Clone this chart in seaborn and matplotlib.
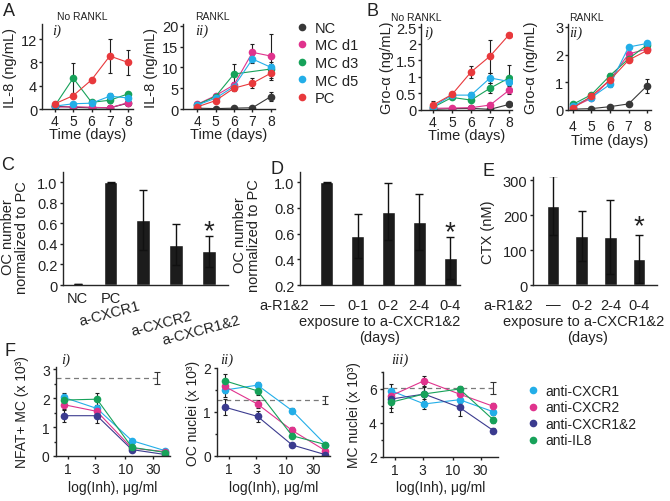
import numpy as np
import pandas as pd
import seaborn as sns
import matplotlib.pyplot as plt
from matplotlib.lines import Line2D
from matplotlib.ticker import AutoMinorLocator, FuncFormatter, NullLocator

W, H = 670, 502

# ---------------- data ----------------
days = [4, 5, 6, 7, 8]
groups = ["NC", "MC d1", "MC d3", "MC d5", "PC"]
group_colors = ["#383838", "#e0338d", "#17a25a", "#23aee8", "#e8393c"]

# A i) IL-8, no RANKL
il8_norankl = {"NC": [0.5, 0.3, 0.2, 0.2, 1.0],
               "MC d1": [0.3, 0.4, 0.3, 0.2, 1.1],
               "MC d3": [0.6, 5.3, 1.15, 1.5, 2.6],
               "MC d5": [0.5, 0.9, 1.0, 2.2, 1.9],
               "PC": [0.9, 2.3, 5.0, 9.1, 8.0]}
il8_norankl_err = {"NC": [0.1, 0.1, 0.1, 0.1, 0.3],
                   "MC d1": [0.1, 0.1, 0.1, 0.1, 0.3],
                   "MC d3": [0.2, 2.6, 0.2, 0.4, 0.4],
                   "MC d5": [0.1, 0.2, 0.2, 0.6, 0.6],
                   "PC": [0.3, 0.3, 0.4, 3.0, 2.2]}

# A ii) IL-8, RANKL
il8_rankl = {"NC": [0.2, 0.1, 0.2, 0.3, 3.0],
             "MC d1": [1.1, 3.2, 5.8, 13.6, 12.7],
             "MC d3": [1.0, 3.0, 8.4, np.nan, 9.6],
             "MC d5": [0.9, 2.6, 5.4, 12.0, 10.0],
             "PC": [0.5, 2.0, 5.0, 6.2, 8.6]}
il8_rankl_err = {"NC": [0.1, 0.1, 0.1, 0.2, 1.0],
                 "MC d1": [0.3, 0.4, 0.8, 2.0, 5.3],
                 "MC d3": [0.3, 0.4, 2.4, np.nan, 1.2],
                 "MC d5": [0.3, 0.4, 0.8, 1.0, 1.2],
                 "PC": [0.2, 0.4, 0.6, 1.2, 1.6]}

# B i) Gro-alpha, no RANKL
gro_norankl = {"NC": [0.02, 0.04, 0.05, 0.02, 0.17],
               "MC d1": [0.05, 0.06, 0.07, 0.15, 0.6],
               "MC d3": [0.08, 0.38, 0.3, 0.66, 0.97],
               "MC d5": [0.1, 0.45, 0.45, 0.97, 0.86],
               "PC": [0.15, 0.47, 1.15, 1.63, 2.28]}
gro_norankl_err = {"NC": [0.01, 0.01, 0.02, 0.02, 0.05],
                   "MC d1": [0.02, 0.02, 0.03, 0.05, 0.12],
                   "MC d3": [0.04, 0.05, 0.05, 0.15, 0.4],
                   "MC d5": [0.03, 0.05, 0.1, 0.15, 0.1],
                   "PC": [0.12, 0.05, 0.18, 0.5, 0.05]}

# B ii) Gro-alpha, RANKL
gro_rankl = {"NC": [0.03, 0.05, 0.12, 0.22, 0.88],
             "MC d1": [0.1, 0.42, 1.1, 2.02, 2.2],
             "MC d3": [0.2, 0.55, 1.24, 1.85, 2.35],
             "MC d5": [0.15, 0.45, 0.92, 2.27, 2.4],
             "PC": [0.06, 0.5, 1.08, 1.8, 2.15]}
gro_rankl_err = {"NC": [0.02, 0.03, 0.04, 0.05, 0.25],
                 "MC d1": [0.03, 0.05, 0.08, 0.08, 0.08],
                 "MC d3": [0.03, 0.05, 0.08, 0.08, 0.1],
                 "MC d5": [0.03, 0.05, 0.08, 0.08, 0.1],
                 "PC": [0.03, 0.05, 0.08, 0.08, 0.08]}

# C) OC number normalized to PC
c_labels = ["NC", "PC", "a-CXCR1", "a-CXCR2", "a-CXCR1&2"]
c_vals = [0.01, 1.0, 0.63, 0.39, 0.33]
c_err = [0.0, 0.005, 0.29, 0.2, 0.15]

# D) exposure windows, OC number
d_labels = ["\u2014", "0-1", "0-2", "2-4", "0-4"]
d_vals = [1.0, 0.58, 0.77, 0.69, 0.41]
d_err = [0.004, 0.17, 0.22, 0.22, 0.16]

# E) exposure windows, CTX
e_labels = ["\u2014", "0-2", "2-4", "0-4"]
e_vals = [228, 140, 138, 75]
e_err = [84, 71, 105, 69]

# F) inhibitor dose response
conc = [0.85, 3.2, 13, 50]
inhibitors = ["anti-CXCR1", "anti-CXCR2", "anti-CXCR1&2", "anti-IL8"]
inh_colors = ["#23aee8", "#e0338d", "#3b3b8f", "#17a25a"]

nfat_mc = {"anti-CXCR1": [2.02, 1.64, 0.53, 0.18],
           "anti-CXCR2": [1.77, 1.54, 0.27, 0.15],
           "anti-CXCR1&2": [1.39, 1.39, 0.22, 0.05],
           "anti-IL8": [1.93, 1.96, 0.3, 0.12]}
nfat_mc_err = {"anti-CXCR1": [0.17, 0.12, 0.05, 0.03],
               "anti-CXCR2": [0.15, 0.12, 0.04, 0.03],
               "anti-CXCR1&2": [0.2, 0.25, 0.04, 0.02],
               "anti-IL8": [0.17, 0.2, 0.05, 0.03]}
nfat_ctrl, nfat_ctrl_err, nfat_ctrl_end = 2.69, 0.2, 35

oc_nuclei = {"anti-CXCR1": [1.5, 1.61, 1.03, 0.26],
             "anti-CXCR2": [1.58, 1.18, 0.58, 0.12],
             "anti-CXCR1&2": [1.11, 0.9, 0.25, 0.03],
             "anti-IL8": [1.71, 1.48, 0.46, 0.26]}
oc_nuclei_err = {"anti-CXCR1": [0.15, 0.08, 0.06, 0.03],
                 "anti-CXCR2": [0.15, 0.1, 0.08, 0.03],
                 "anti-CXCR1&2": [0.18, 0.12, 0.04, 0.02],
                 "anti-IL8": [0.15, 0.1, 0.06, 0.04]}
oc_ctrl, oc_ctrl_err, oc_ctrl_end = 1.28, 0.09, 50

mc_nuclei = {"anti-CXCR1": [5.9, 5.12, 5.37, 4.66],
             "anti-CXCR2": [5.6, 6.49, 5.7, 4.98],
             "anti-CXCR1&2": [5.41, 5.7, 4.92, 3.55],
             "anti-IL8": [5.22, 5.71, 6.0, 4.18]}
mc_nuclei_err = {"anti-CXCR1": [0.4, 0.3, 0.2, 0.2],
                 "anti-CXCR2": [0.4, 0.3, 0.2, 0.2],
                 "anti-CXCR1&2": [0.5, 0.6, 0.5, 0.15],
                 "anti-IL8": [0.6, 0.4, 0.2, 0.2]}
mc_ctrl, mc_ctrl_err, mc_ctrl_end = 6.04, 0.35, 50

# ---------------- style ----------------
sns.set_theme(style="ticks")
plt.rcParams['font.family'] = ['Liberation Sans', 'DejaVu Sans']
plt.rcParams.update({"axes.linewidth": 1.0, "xtick.major.width": 1.0,
                     "ytick.major.width": 1.0, "xtick.major.size": 2.5,
                     "ytick.major.size": 2.5, "xtick.minor.size": 1.6,
                     "ytick.minor.size": 1.6, "axes.labelcolor": "#222",
                     "xtick.color": "#222", "ytick.color": "#222",
                     "text.color": "#222"})

fig = plt.figure(figsize=(6.7, 5.02), dpi=100)


def px_axes(x0, y0, x1, y1):
    # axes rectangle given in pixel coords of the 670x502 canvas
    return fig.add_axes([x0 / W, 1 - y1 / H, (x1 - x0) / W, (y1 - y0) / H])


def ftext(x, y, s, **kw):
    fig.text(x / W, 1 - y / H, s, **kw)


gfmt = FuncFormatter(lambda v, p: "%g" % v)


def time_panel(ax, vals, errs, xlim, ylim, yticks, ylabel, ylab_x):
    rows = [(d, g, v) for g in groups for d, v in zip(days, vals[g])]
    df = pd.DataFrame(rows, columns=["day", "group", "value"]).dropna()
    sns.lineplot(data=df, x="day", y="value", hue="group", hue_order=groups,
                 palette=group_colors, marker="o", markersize=5.5,
                 markeredgewidth=0, linewidth=0.8, errorbar=None,
                 legend=False, ax=ax)
    for g in groups:
        ax.errorbar(days, vals[g], yerr=errs[g], fmt="none", ecolor="#1e1e1e",
                    elinewidth=0.8, capsize=1.5, capthick=0.8, zorder=1.5)
    ax.set_xlim(*xlim)
    ax.set_ylim(*ylim)
    ax.set_xticks(days)
    ax.set_yticks(yticks)
    ax.yaxis.set_major_formatter(gfmt)
    ax.tick_params(labelsize=10.5, pad=1)
    ax.tick_params(axis="x", labelsize=10)
    ax.set_xlabel("Time (days)", fontsize=10.5)
    ax.set_ylabel(ylabel, fontsize=10.5)
    ax.yaxis.set_label_coords(ylab_x, 0.5)
    ax.xaxis.set_label_coords(0.5, -0.215)
    sns.despine(ax=ax)


def bar_panel(ax, labels, vals, errs, xlim, ylim, yticks, width):
    sns.barplot(x=labels, y=vals, order=labels, color="#1c1c1c",
                saturation=1, width=width, ax=ax)
    ax.errorbar(range(len(labels)), vals, yerr=errs, fmt="none",
                ecolor="#111", elinewidth=1.0, capsize=3, capthick=1.0)
    ax.set_xlim(*xlim)
    ax.set_ylim(*ylim)
    ax.set_yticks(yticks)
    ax.tick_params(axis="x", length=0)
    ax.tick_params(labelsize=10.5, pad=1.5)
    ax.set_xlabel("")
    sns.despine(ax=ax)


def dose_panel(ax, vals, errs, ctrl, ctrl_err, ctrl_end, ylim, yticks,
               ylabel, ylab_x):
    rows = [(c, g, v) for g in inhibitors for c, v in zip(conc, vals[g])]
    df = pd.DataFrame(rows, columns=["conc", "inh", "value"])
    xlim = (0.62, 60)
    ax.hlines(ctrl, xlim[0], ctrl_end, colors="#7a7a7a", linestyles=(0, (4, 3)),
              linewidth=0.9)
    ax.errorbar([ctrl_end], [ctrl], yerr=[ctrl_err], fmt="none",
                ecolor="#333", elinewidth=0.8, capsize=2.5, capthick=0.8)
    sns.lineplot(data=df, x="conc", y="value", hue="inh", hue_order=inhibitors,
                 palette=inh_colors, marker="o", markersize=5.5,
                 markeredgewidth=0, linewidth=0.8, errorbar=None,
                 legend=False, ax=ax)
    for g in inhibitors:
        ax.errorbar(conc, vals[g], yerr=errs[g], fmt="none", ecolor="#1e1e1e",
                    elinewidth=0.8, capsize=1.5, capthick=0.8, zorder=1.5)
    ax.set_xscale("log")
    ax.set_xlim(*xlim)
    ax.set_xticks([1, 3, 10, 30])
    ax.set_xticklabels(["1", "3", "10", "30"])
    ax.xaxis.set_minor_locator(NullLocator())
    ax.set_ylim(*ylim)
    ax.set_yticks(yticks)
    ax.yaxis.set_minor_locator(AutoMinorLocator(2))
    ax.yaxis.set_major_formatter(gfmt)
    ax.tick_params(labelsize=10, pad=2)
    ax.set_xlabel("log(Inh), \u03bcg/ml", fontsize=10)
    ax.xaxis.set_label_coords(0.5, -0.27)
    ax.set_ylabel(ylabel, fontsize=10)
    ax.yaxis.set_label_coords(ylab_x, 0.5)
    sns.despine(ax=ax)


# ---------------- panel A ----------------
ax_a1 = px_axes(42, 25, 133, 110)
time_panel(ax_a1, il8_norankl, il8_norankl_err, (3.29, 8.27), (0, 14.6),
           [0, 4, 8, 12], "IL-8 (ng/mL)", -0.27)
ax_a2 = px_axes(183, 25, 275, 110)
time_panel(ax_a2, il8_rankl, il8_rankl_err, (3.24, 8.22), (0, 20.4),
           [0, 5, 10, 15, 20], "IL-8 (ng/mL)", -0.27)

handles = [Line2D([], [], marker="o", ls="", color=c, markersize=5.5,
                  markeredgewidth=0) for c in group_colors]
fig.legend(handles, groups, loc="upper left",
           bbox_to_anchor=(293 / W, 1 - 22 / H), frameon=False, fontsize=10.5,
           handlelength=1.2, handletextpad=0.3, labelspacing=0.24,
           borderpad=0, borderaxespad=0)

# ---------------- panel B ----------------
ax_b1 = px_axes(421, 25, 512, 111)
time_panel(ax_b1, gro_norankl, gro_norankl_err, (3.37, 8.15), (0, 2.6),
           [0, 0.5, 1, 1.5, 2, 2.5], "Gro-\u03b1 (ng/mL)", -0.30)
ax_b2 = px_axes(568, 25, 651, 111)
time_panel(ax_b2, gro_rankl, gro_rankl_err, (3.75, 8.2), (0, 3.1),
           [0, 1, 2, 3], "Gro-\u03b1 (ng/mL)", -0.36)
ax_b2.tick_params(axis="x", pad=4)
ax_b2.xaxis.set_label_coords(0.5, -0.27)

# ---------------- panel C ----------------
ax_c = px_axes(63, 173, 228, 286)
bar_panel(ax_c, c_labels, c_vals, c_err, (-0.45, 4.58), (0, 1.1),
          [0, 0.2, 0.4, 0.6, 0.8, 1.0], 0.42)
ax_c.set_xticklabels(["NC", "PC", "", "", ""])
ax_c.tick_params(axis="x", pad=4)
ax_c.yaxis.set_major_formatter(FuncFormatter(lambda v, p: "0" if v == 0 else "%.1f" % v))
ax_c.set_ylabel("OC number\nnormalized to PC", fontsize=10.5, linespacing=1.0)
ax_c.yaxis.set_label_coords(-0.205, 0.43)
ax_c.text(4, 0.46, "*", ha="center", va="baseline", fontsize=20)
for lab, cx, cy in zip(c_labels[2:], [110, 162, 201], [314, 324, 331]):
    ftext(cx, cy, lab, ha="center", va="center", rotation=15, fontsize=10.5)

# ---------------- panel D ----------------
ax_d = px_axes(300, 173, 460, 286)
bar_panel(ax_d, d_labels, d_vals, d_err, (-0.87, 4.32), (0.2, 1.078),
          [0.2, 0.4, 0.6, 0.8, 1.0], 0.42)
ax_d.yaxis.set_major_formatter(FuncFormatter(lambda v, p: "%.1f" % v))
ax_d.tick_params(axis="x", pad=9)
ax_d.set_ylabel("OC number\nnormalized to PC", fontsize=10.5, linespacing=1.0)
ax_d.yaxis.set_label_coords(-0.245, 0.45)
ax_d.text(4, 0.557, "*", ha="center", va="baseline", fontsize=20)
ftext(284, 306, "a-R1&2", ha="center", va="center", fontsize=10.5)
ftext(380, 322, "exposure to a-CXCR1&2", ha="center", va="center", fontsize=10.5)
ftext(380, 338, "(days)", ha="center", va="center", fontsize=10.5)

# ---------------- panel E ----------------
ax_e = px_axes(533, 178, 657, 286)
bar_panel(ax_e, e_labels, e_vals, e_err, (-0.7, 3.63), (0, 310),
          [0, 100, 200, 300], 0.45)
ax_e.tick_params(axis="x", pad=9)
ax_e.set_ylabel("CTX (nM)", fontsize=10.5)
ax_e.yaxis.set_label_coords(-0.31, 0.5)
ax_e.text(3, 149, "*", ha="center", va="baseline", fontsize=20)
ftext(508, 306, "a-R1&2", ha="center", va="center", fontsize=10.5)
ftext(584, 322, "exposure to a-CXCR1&2", ha="center", va="center", fontsize=10.5)
ftext(588, 338, "(days)", ha="center", va="center", fontsize=10.5)

# ---------------- panel F ----------------
ax_f1 = px_axes(56, 368, 170, 457)
dose_panel(ax_f1, nfat_mc, nfat_mc_err, nfat_ctrl, nfat_ctrl_err, nfat_ctrl_end,
           (0, 3.07), [0, 1, 2, 3], "NFAT+ MC (x 10\u00b3)", -0.24)
ax_f2 = px_axes(217, 369, 330, 457)
dose_panel(ax_f2, oc_nuclei, oc_nuclei_err, oc_ctrl, oc_ctrl_err, oc_ctrl_end,
           (0, 2.0), [0, 1, 2], "OC nuclei (x 10\u00b3)", -0.15)
ax_f3 = px_axes(383, 373, 498, 458)
dose_panel(ax_f3, mc_nuclei, mc_nuclei_err, mc_ctrl, mc_ctrl_err, mc_ctrl_end,
           (2, 7), [2, 4, 6], "MC nuclei (x 10\u00b3)", -0.19)

handles = [Line2D([], [], marker="o", ls="", color=c, markersize=5.5,
                  markeredgewidth=0) for c in inh_colors]
fig.legend(handles, inhibitors, loc="upper left",
           bbox_to_anchor=(525 / W, 1 - 385 / H), frameon=False, fontsize=10,
           handlelength=1.1, handletextpad=0.35, labelspacing=0.18,
           borderpad=0, borderaxespad=0)

# ---------------- annotations ----------------
for s, x, y in [("A", 9, 12), ("B", 372, 11), ("C", 8, 166), ("D", 277, 170),
                ("E", 489, 172), ("F", 10, 351)]:
    ftext(x, y, s, ha="center", va="center", fontsize=13)

for s, x, y in [("No RANKL", 82, 17), ("RANKL", 212, 17),
                ("No RANKL", 416, 18), ("RANKL", 586, 18)]:
    ftext(x, y, s, ha="center", va="center", fontsize=7.5)

roman = dict(ha="center", va="center", fontsize=10.5, style="italic",
             family="Liberation Serif")
for s, x, y in [("i)", 57, 31), ("ii)", 202, 31), ("i)", 429, 33),
                ("ii)", 576, 33), ("i)", 66, 360), ("ii)", 227, 360),
                ("iii)", 400, 360)]:
    ftext(x, y, s, **roman)

fig.savefig("out.png", dpi=100)
